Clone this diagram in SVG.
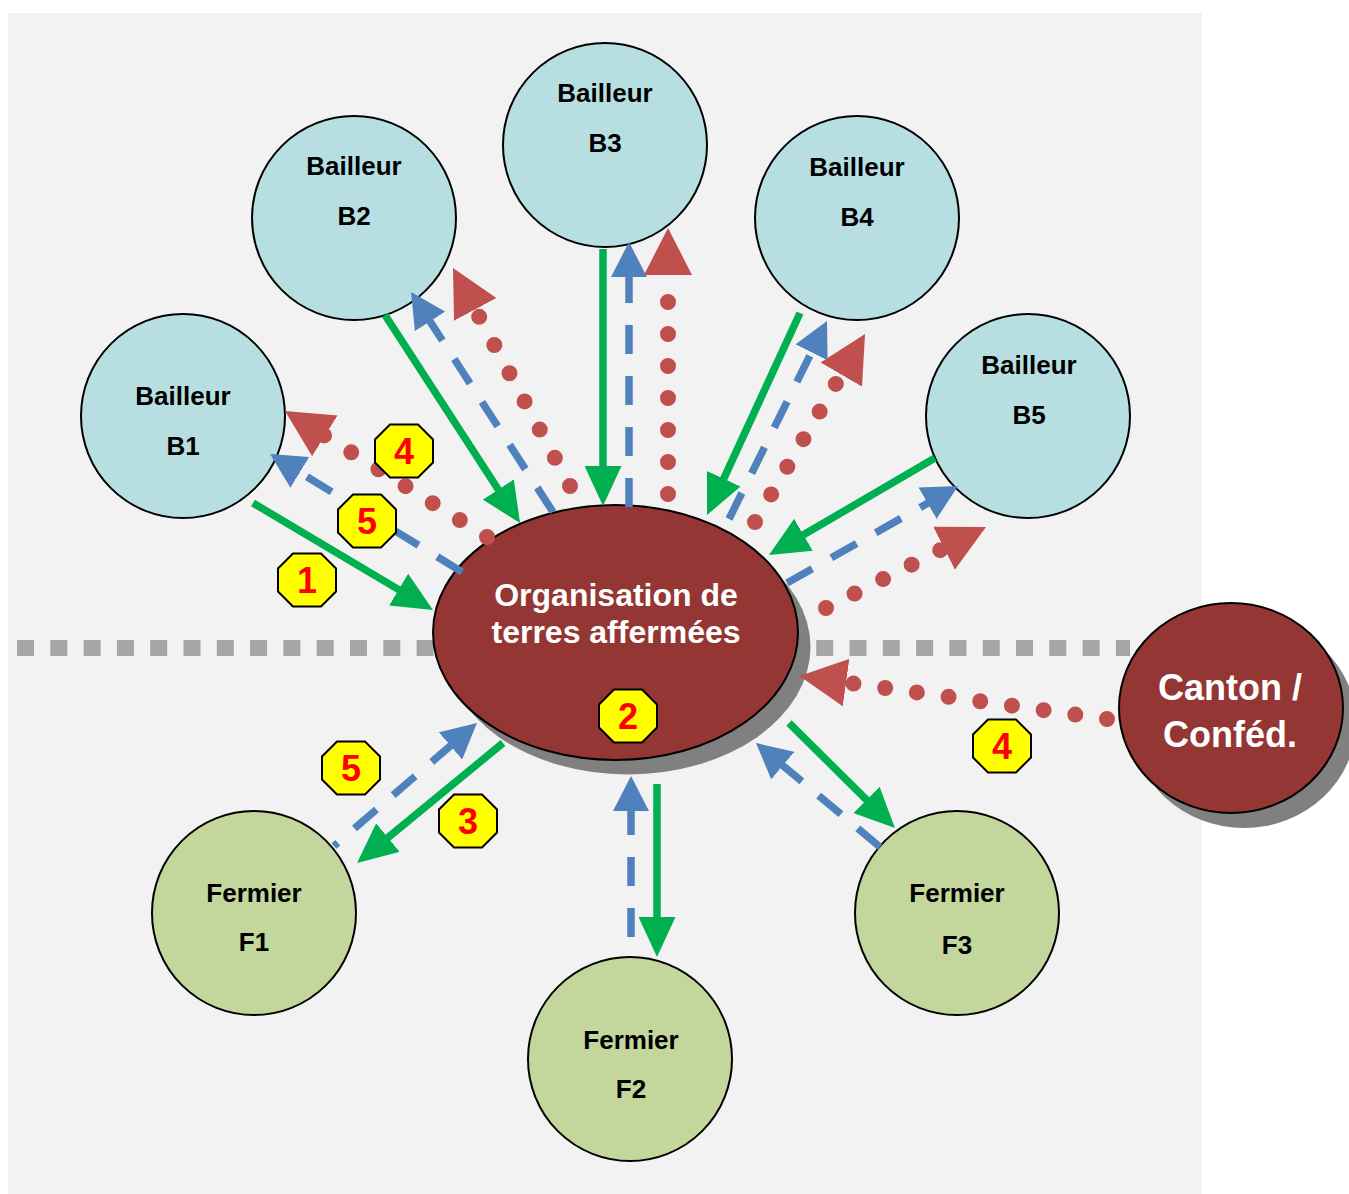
<svg xmlns="http://www.w3.org/2000/svg" xmlns:xlink="http://www.w3.org/1999/xlink" width="1349" height="1194" viewBox="0 0 1349 1194">
<style>
.bg{fill:#F2F2F2}
.sep{fill:none;stroke:#A6A6A6;stroke-width:16;stroke-dasharray:17 16.3}
.bail{fill:#B7DFE2;stroke:#000;stroke-width:2}
.ferm{fill:#C3D69B;stroke:#000;stroke-width:2}
.org{fill:#943634;stroke:#000;stroke-width:2}
.shadow{fill:#808080}
.lbl{font-family:"Liberation Sans",Arial,sans-serif;font-weight:bold;font-size:26px;fill:#000;text-anchor:middle}
.wlbl{font-family:"Liberation Sans",Arial,sans-serif;font-weight:bold;fill:#fff;text-anchor:middle}
.g{fill:none;stroke:#00B050;stroke-width:7.5;marker-end:url(#ahG)}
.b{fill:none;stroke:#4F81BD;stroke-width:7.5;stroke-dasharray:29 22;marker-end:url(#ahB)}
.r{fill:none;stroke:#C0504D;stroke-width:16;stroke-linecap:round;stroke-dasharray:0 32;marker-end:url(#ahR)}
.oct{fill:#FFFF00;stroke:#000;stroke-width:2}
.num{font-family:"Liberation Sans",Arial,sans-serif;font-weight:bold;font-size:36px;fill:#FF0000;text-anchor:middle}
</style>
<defs>
<marker id="ahG" markerUnits="userSpaceOnUse" markerWidth="40" markerHeight="37" viewBox="0 0 40 37" refX="3" refY="18.5" orient="auto"><path d="M0,0 L40,18.5 L0,37 Z" fill="#00B050"/></marker>
<marker id="ahB" markerUnits="userSpaceOnUse" markerWidth="35" markerHeight="36" viewBox="0 0 35 36" refX="3" refY="18" orient="auto"><path d="M0,0 L35,18 L0,36 Z" fill="#4F81BD"/></marker>
<marker id="ahR" markerUnits="userSpaceOnUse" markerWidth="47" markerHeight="48" viewBox="0 0 47 48" refX="3" refY="24" orient="auto"><path d="M0,0 L47,24 L0,48 Z" fill="#C0504D"/></marker>
<polygon id="octShape" class="oct" points="-14,-26.5 14,-26.5 29,-11.5 29,11.5 14,26.5 -14,26.5 -29,11.5 -29,-11.5"/>
</defs>

<rect class="bg" x="8" y="13" width="1194" height="1181"/>
<line class="sep" x1="17" y1="648" x2="1130" y2="648"/>

<g id="node-org">
<ellipse class="shadow" cx="628" cy="647" rx="182.5" ry="127.5"/>
<ellipse class="org" cx="615.5" cy="632.5" rx="182.5" ry="127.5"/>
<text class="wlbl" font-size="32" x="616" y="606">Organisation de</text>
<text class="wlbl" font-size="32" x="616" y="643">terres affermées</text>
</g>

<g id="node-canton">
<ellipse class="shadow" cx="1244" cy="723" rx="112" ry="105"/>
<ellipse class="org" cx="1231" cy="708" rx="112" ry="105"/>
<text class="wlbl" font-size="36" x="1230" y="700">Canton /</text>
<text class="wlbl" font-size="36" x="1230" y="747">Conféd.</text>
</g>

<g id="node-b1"><circle class="bail" cx="183" cy="416" r="102"/><text class="lbl" x="183" y="405">Bailleur</text><text class="lbl" x="183" y="455">B1</text></g>
<g id="node-b2"><circle class="bail" cx="354" cy="218" r="102"/><text class="lbl" x="354" y="175">Bailleur</text><text class="lbl" x="354" y="225">B2</text></g>
<g id="node-b3"><circle class="bail" cx="605" cy="145" r="102"/><text class="lbl" x="605" y="102">Bailleur</text><text class="lbl" x="605" y="152">B3</text></g>
<g id="node-b4"><circle class="bail" cx="857" cy="218" r="102"/><text class="lbl" x="857" y="176">Bailleur</text><text class="lbl" x="857" y="226">B4</text></g>
<g id="node-b5"><circle class="bail" cx="1028" cy="416" r="102"/><text class="lbl" x="1029" y="374">Bailleur</text><text class="lbl" x="1029" y="424">B5</text></g>
<g id="node-f1"><circle class="ferm" cx="254" cy="913" r="102"/><text class="lbl" x="254" y="902">Fermier</text><text class="lbl" x="254" y="951">F1</text></g>
<g id="node-f2"><circle class="ferm" cx="630" cy="1059" r="102"/><text class="lbl" x="631" y="1049">Fermier</text><text class="lbl" x="631" y="1098">F2</text></g>
<g id="node-f3"><circle class="ferm" cx="957" cy="913" r="102"/><text class="lbl" x="957" y="902">Fermier</text><text class="lbl" x="957" y="954">F3</text></g>

<g id="connectors">
<path class="g" d="M253,503 L401.2,591.1"/>
<path class="g" d="M385,315 L499.9,492"/>
<path class="g" d="M603,249 L603,469"/>
<path class="g" d="M800,313 L722.5,481.4"/>
<path class="g" d="M935,458 L800.9,536.3"/>
<path class="g" d="M503,743 L385.6,839.5"/>
<path class="g" d="M657,784 L657,920"/>
<path class="g" d="M789,723 L868.7,802"/>

<path class="b" d="M462,572 L297.3,470.8"/>
<path class="b" d="M553,512 L428.4,318.9"/>
<path class="b" d="M629,507 L629,274"/>
<path class="b" d="M729,519 L812.8,349.7"/>
<path class="b" d="M787,583 L930.2,501.8"/>
<path class="b" d="M334,846 L452.7,743.9" stroke-dashoffset="24"/>
<path class="b" d="M631,937 L631,808"/>
<path class="b" d="M880,847 L780.5,763.6"/>

<path class="r" d="M487,537 L322.3,434.3"/>
<path class="r" d="M570,486 L473.8,306.8"/>
<path class="r" d="M668,494 L668,272"/>
<path class="r" d="M755,522 L842.8,372"/>
<path class="r" d="M826,608 L946.7,546.9"/>
<path class="r" d="M1107,719 L843.1,682.1"/>
</g>

<g id="badges">
<g id="badge-1"><use href="#octShape" x="307" y="580"/><text class="num" x="307" y="593">1</text></g>
<g id="badge-4a"><use href="#octShape" x="404" y="451"/><text class="num" x="404" y="464">4</text></g>
<g id="badge-5a"><use href="#octShape" x="367" y="521"/><text class="num" x="367" y="534">5</text></g>
<g id="badge-2"><use href="#octShape" x="628" y="716"/><text class="num" x="628" y="729">2</text></g>
<g id="badge-5b"><use href="#octShape" x="351" y="768"/><text class="num" x="351" y="781">5</text></g>
<g id="badge-3"><use href="#octShape" x="468" y="821"/><text class="num" x="468" y="834">3</text></g>
<g id="badge-4b"><use href="#octShape" x="1002" y="746"/><text class="num" x="1002" y="759">4</text></g>
</g>
</svg>
